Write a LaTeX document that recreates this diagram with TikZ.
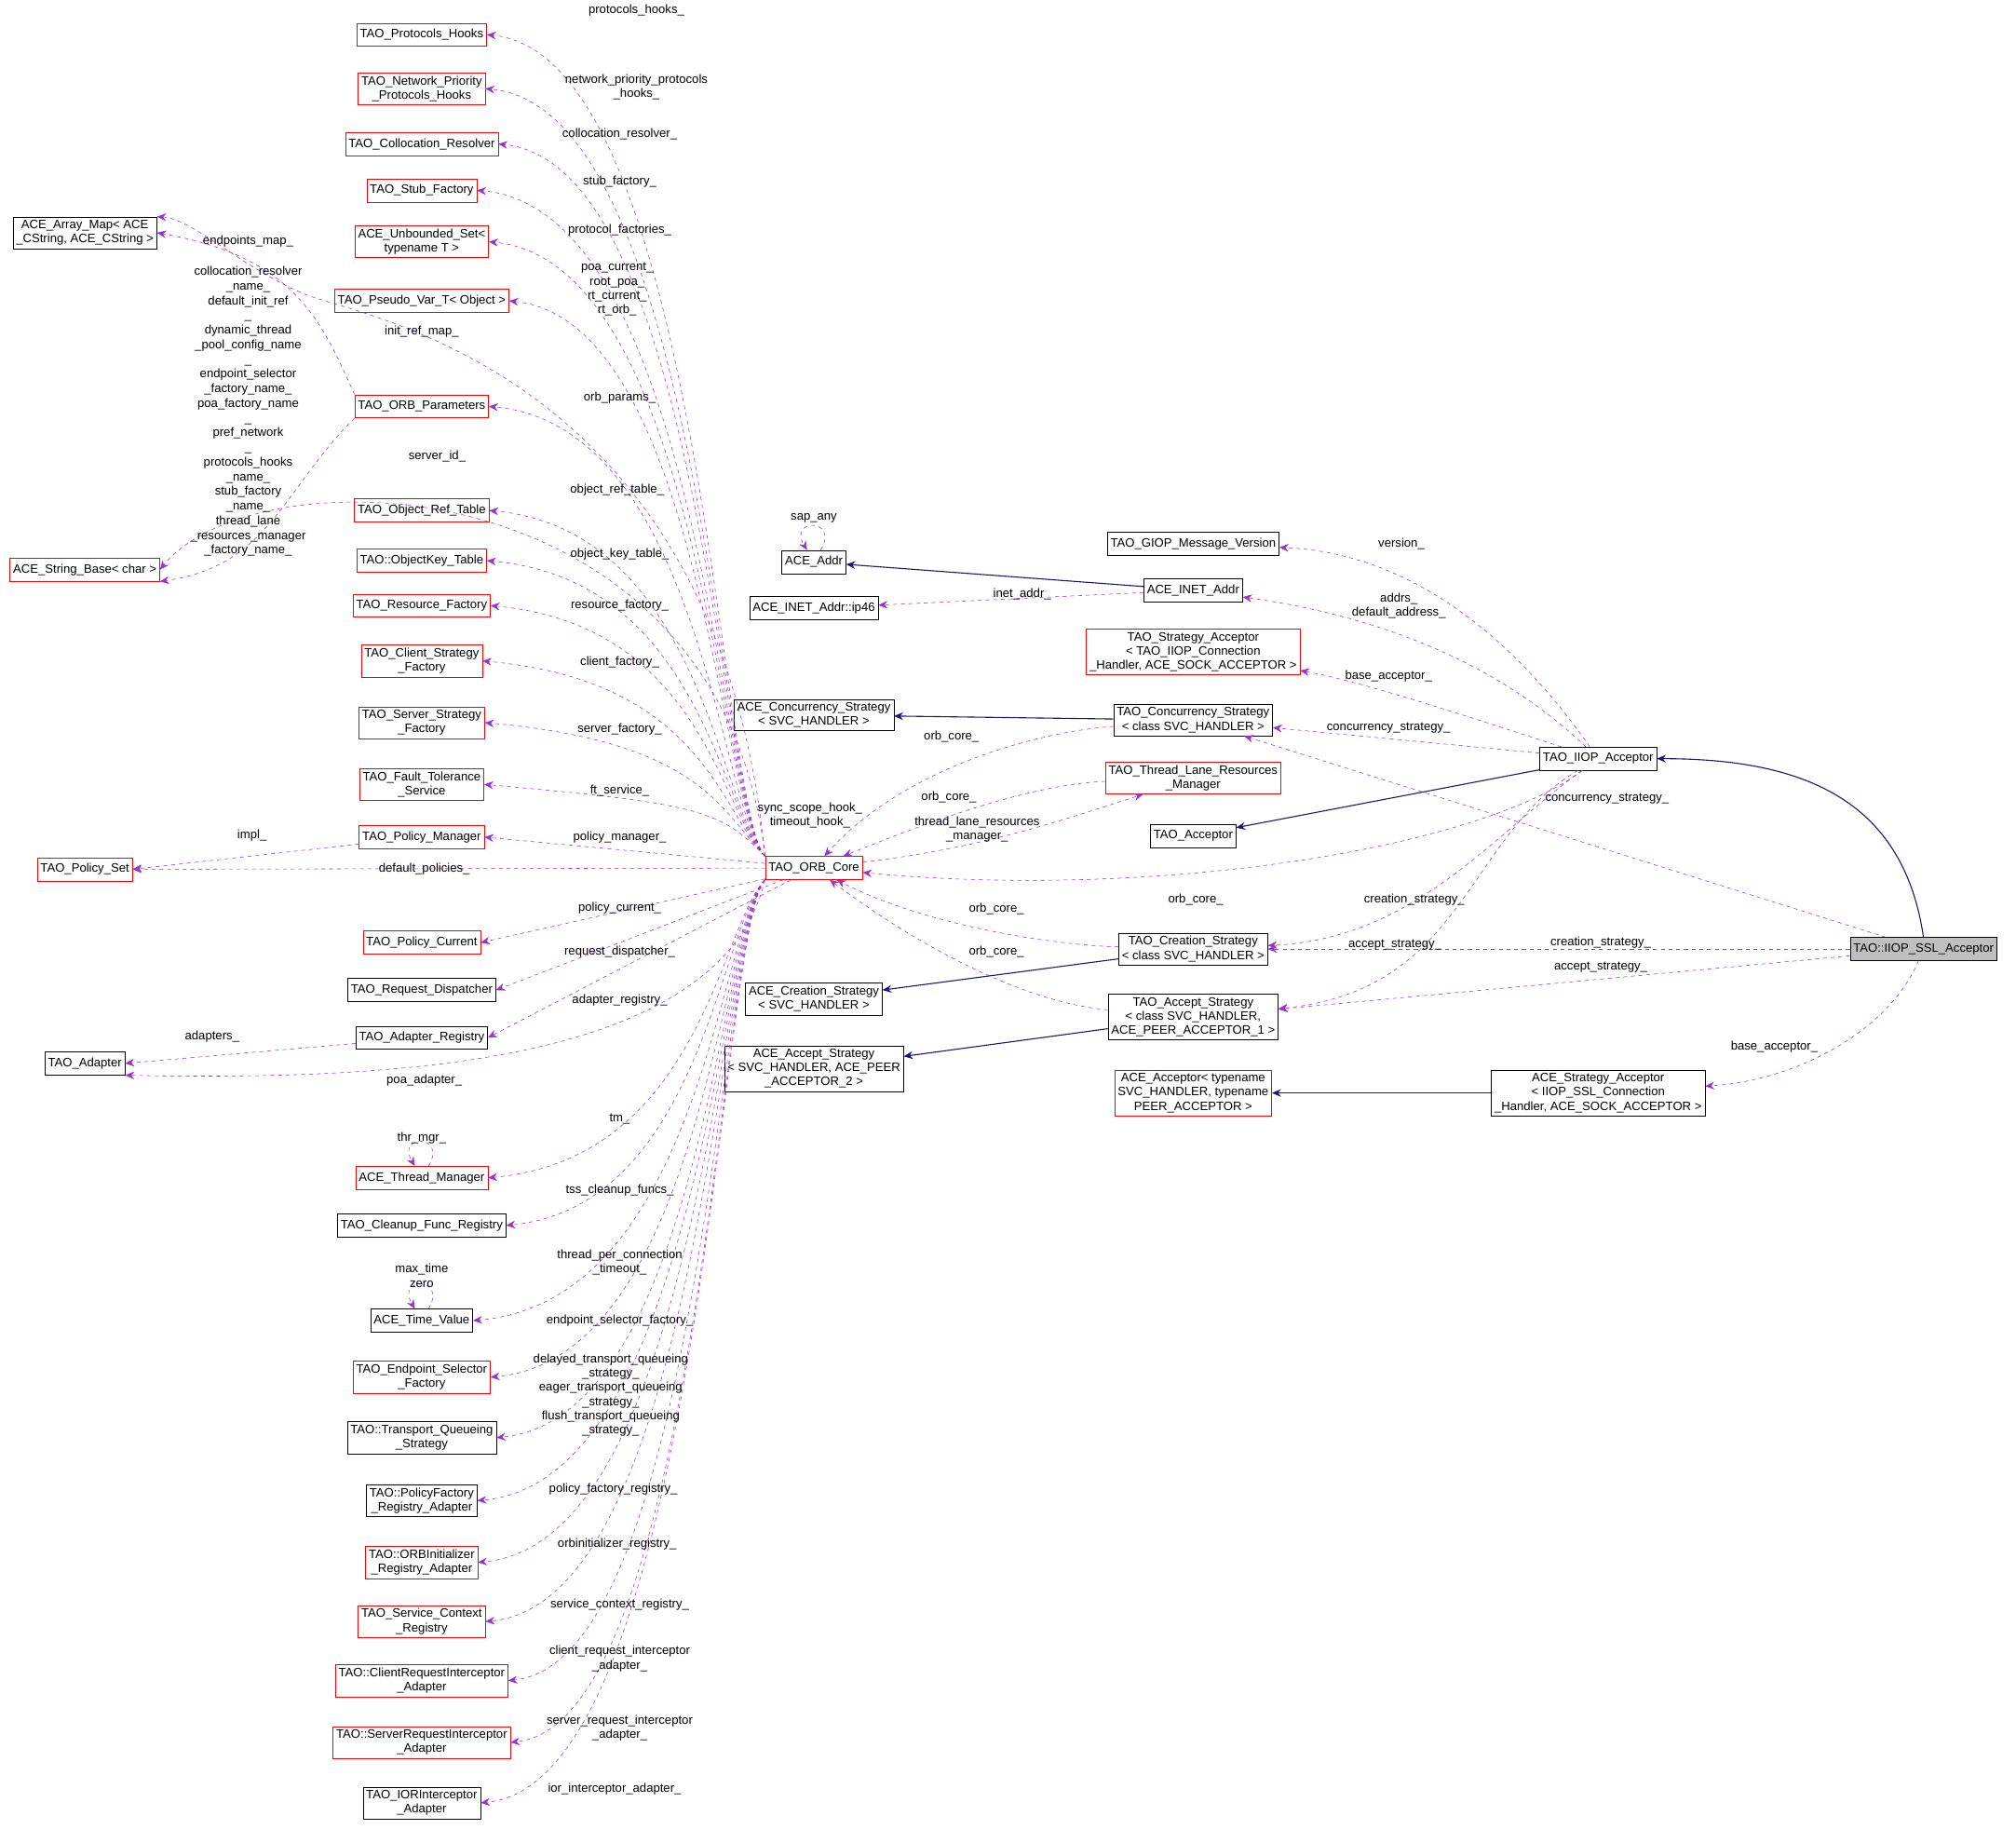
\documentclass[tikz,border=0pt]{standalone}
\usepackage{fontspec}
\setmainfont{Liberation Sans}
\usetikzlibrary{arrows.meta}
\begin{document}
\begin{tikzpicture}[x=1pt,y=-1pt,
 bx/.style={draw=black,fill=white,inner sep=2.5pt,align=center,font=\fontsize{9.5}{11}\selectfont,minimum height=18pt},
 rbx/.style={bx,draw=red},
 lb/.style={align=center,font=\fontsize{9.5}{11}\selectfont,inner sep=0pt},
 dep/.style={draw={rgb,255:red,153;green,50;blue,204},dashed,-{Stealth[length=7pt,width=6pt]}},
 inh/.style={draw={rgb,255:red,25;green,25;blue,112},thick,-{Stealth[length=7pt,width=6pt]}}]
\useasboundingbox[fill=white] (0,0) rectangle (1568,1433);
% left column
\node[rbx] (n1) at (328,27) {TAO\_Protocols\_Hooks};
\node[rbx] (n2) at (328,69) {TAO\_Network\_Priority\\\_Protocols\_Hooks};
\node[rbx] (n3) at (328,112) {TAO\_Collocation\_Resolver};
\node[rbx] (n4) at (328,148) {TAO\_Stub\_Factory};
\node[rbx] (n5) at (328,188) {ACE\_Unbounded\_Set<\\typename T >};
\node[rbx] (n6) at (328,234) {TAO\_Pseudo\_Var\_T< Object >};
\node[rbx] (n7) at (328,316) {TAO\_ORB\_Parameters};
\node[rbx] (n8) at (328,397) {TAO\_Object\_Ref\_Table};
\node[rbx] (n9) at (328,436) {TAO::ObjectKey\_Table};
\node[rbx] (n10) at (328,471) {TAO\_Resource\_Factory};
\node[rbx] (n11) at (328,514) {TAO\_Client\_Strategy\\\_Factory};
\node[rbx] (n12) at (328,562) {TAO\_Server\_Strategy\\\_Factory};
\node[rbx] (n13) at (328,610) {TAO\_Fault\_Tolerance\\\_Service};
\node[rbx] (n14) at (328,651) {TAO\_Policy\_Manager};
\node[rbx] (n15) at (328,733) {TAO\_Policy\_Current};
\node[bx] (n16) at (328,770) {TAO\_Request\_Dispatcher};
\node[bx] (n17) at (328,807) {TAO\_Adapter\_Registry};
\node[rbx] (n18) at (328,916) {ACE\_Thread\_Manager};
\node[bx] (n19) at (328,953) {TAO\_Cleanup\_Func\_Registry};
\node[bx] (n20) at (328,1027) {ACE\_Time\_Value};
\node[rbx] (n21) at (328,1071) {TAO\_Endpoint\_Selector\\\_Factory};
\node[bx] (n22) at (328,1118) {TAO::Transport\_Queueing\\\_Strategy};
\node[bx] (n23) at (328,1167) {TAO::PolicyFactory\\\_Registry\_Adapter};
\node[rbx] (n24) at (328,1215) {TAO::ORBInitializer\\\_Registry\_Adapter};
\node[rbx] (n25) at (328,1261) {TAO\_Service\_Context\\\_Registry};
\node[rbx] (n26) at (328,1307) {TAO::ClientRequestInterceptor\\\_Adapter};
\node[rbx] (n27) at (328,1355) {TAO::ServerRequestInterceptor\\\_Adapter};
\node[bx] (n28) at (328,1402) {TAO\_IORInterceptor\\\_Adapter};
% far left
\node[bx] (am) at (66,181) {ACE\_Array\_Map< ACE\\\_CString, ACE\_CString >};
\node[rbx] (sb) at (66,443) {ACE\_String\_Base< char >};
\node[rbx] (ps) at (66,676) {TAO\_Policy\_Set};
\node[bx] (ad) at (66,827) {TAO\_Adapter};
% core
\node[rbx] (orb) at (633,675) {TAO\_ORB\_Core};
% mid
\node[bx] (addr) at (633,437) {ACE\_Addr};
\node[bx] (ip46) at (633,473) {ACE\_INET\_Addr::ip46};
\node[bx] (acs) at (633,556) {ACE\_Concurrency\_Strategy\\< SVC\_HANDLER >};
\node[bx] (acr) at (633,777) {ACE\_Creation\_Strategy\\< SVC\_HANDLER >};
\node[bx] (aac) at (633,831) {ACE\_Accept\_Strategy\\< SVC\_HANDLER, ACE\_PEER\\\_ACCEPTOR\_2 >};
\node[bx] (giop) at (928,423) {TAO\_GIOP\_Message\_Version};
\node[bx] (inet) at (928,459) {ACE\_INET\_Addr};
\node[rbx] (tsa) at (928,507) {TAO\_Strategy\_Acceptor\\< TAO\_IIOP\_Connection\\\_Handler, ACE\_SOCK\_ACCEPTOR >};
\node[bx] (tcs) at (928,560) {TAO\_Concurrency\_Strategy\\< class SVC\_HANDLER >};
\node[rbx] (tlr) at (928,605) {TAO\_Thread\_Lane\_Resources\\\_Manager};
\node[bx] (tacc) at (928,650) {TAO\_Acceptor};
\node[bx] (tcr) at (928,738) {TAO\_Creation\_Strategy\\< class SVC\_HANDLER >};
\node[bx] (tas) at (928,791) {TAO\_Accept\_Strategy\\< class SVC\_HANDLER,\\ACE\_PEER\_ACCEPTOR\_1 >};
\node[rbx] (aacc) at (928,850) {ACE\_Acceptor< typename\\SVC\_HANDLER, typename\\PEER\_ACCEPTOR >};
\node[bx] (iiop) at (1243,590) {TAO\_IIOP\_Acceptor};
\node[bx] (asa) at (1243,850) {ACE\_Strategy\_Acceptor\\< IIOP\_SSL\_Connection\\\_Handler, ACE\_SOCK\_ACCEPTOR >};
\node[bx,fill=black!25] (ssl) at (1496,738) {TAO::IIOP\_SSL\_Acceptor};
% core -> left column
\foreach \n/\y in {n1/27,n2/69,n3/112,n4/148,n5/188,n6/234,n7/316,n8/397,n9/436,n10/471,n11/514,n12/562,n13/610}
  \draw[dep] (orb.north west) .. controls (560,630) and (545,\y+15) .. (\n.east);
\foreach \n/\y in {n18/916,n19/953,n20/1027,n21/1071,n22/1118,n23/1167,n24/1215,n25/1261,n26/1307,n27/1355,n28/1402}
  \draw[dep] (orb.south west) .. controls (560,720) and (545,\y-15) .. (\n.east);
\foreach \n in {n14,n15,n16,n17}
  \draw[dep] (orb) -- (\n.east);
\draw[dep] (orb.north west) .. controls (560,300) and (300,250) .. (240,230) .. controls (190,210) and (150,170) .. (am.north east);
\draw[dep] (n7.north west) .. controls (250,250) and (230,200) .. (am.east);
\draw[dep] (n7.south west) .. controls (220,380) and (210,440) .. (sb.south east);
\draw[dep] (orb.north west) .. controls (560,360) and (200,350) .. (sb.east);
\draw[dep] (orb) -- (ps.east);
\draw[dep] (n14) -- (ps.east);
\draw[dep] (n17) -- (ad.east);
\draw[dep] (orb.south west) .. controls (560,830) and (300,840) .. (ad.south east);
\draw[dep] (n18.60) .. controls +(15,-25) and +(-15,-25) .. (n18.120);
\draw[dep] (n20.60) .. controls +(15,-25) and +(-15,-25) .. (n20.120);
\draw[dep] (addr.60) .. controls +(15,-25) and +(-15,-25) .. (addr.120);
% right side deps
\draw[dep] (inet) -- (ip46);
\draw[dep] (iiop) .. controls (1180,500) and (1100,430) .. (giop);
\draw[dep] (iiop) .. controls (1170,520) and (1080,480) .. (inet);
\draw[dep] (iiop) .. controls (1150,560) and (1060,530) .. (tsa);
\draw[dep] (iiop) -- (tcs);
\draw[dep] (tcs) .. controls (800,570) and (700,600) .. (orb);
\draw[dep] (tlr) .. controls (800,610) and (720,640) .. (orb);
\draw[dep] (orb) .. controls (760,660) and (820,640) .. (tlr);
\draw[dep] (iiop) .. controls (1150,660) and (900,700) .. (orb);
\draw[dep] (tcr) .. controls (820,735) and (720,720) .. (orb);
\draw[dep] (tas) .. controls (800,780) and (720,740) .. (orb);
\draw[dep] (iiop) .. controls (1160,650) and (1100,730) .. (tcr);
\draw[dep] (iiop) .. controls (1140,650) and (1140,770) .. (tas);
\draw[dep] (ssl) -- (tcs);
\draw[dep] (ssl) -- (tcr);
\draw[dep] (ssl) -- (tas);
\draw[dep] (ssl) .. controls (1470,800) and (1400,840) .. (asa);
% inheritance
\draw[inh] (inet) -- (addr);
\draw[inh] (tcs) -- (acs);
\draw[inh] (iiop) -- (tacc);
\draw[inh] (tcr) -- (acr);
\draw[inh] (tas) -- (aac);
\draw[inh] (asa) -- (aacc);
\draw[inh] (ssl.north) .. controls (1480,620) and (1400,590) .. (iiop.east);
% labels
\node[lb] (l1) at (495,8) {protocols\_hooks\_};
\node[lb] (l2) at (495,68) {network\_priority\_protocols\\\_hooks\_};
\node[lb] (l3) at (482,104) {collocation\_resolver\_};
\node[lb] (l4) at (482,141) {stub\_factory\_};
\node[lb] (l5) at (482,179) {protocol\_factories\_};
\node[lb] (l6) at (480,225) {poa\_current\_\\root\_poa\_\\rt\_current\_\\rt\_orb\_};
\node[lb] (l7) at (328,258) {init\_ref\_map\_};
\node[lb] (l8) at (482,309) {orb\_params\_};
\node[lb] (l9) at (480,381) {object\_ref\_table\_};
\node[lb] (l10) at (482,431) {object\_key\_table\_};
\node[lb] (l11) at (482,471) {resource\_factory\_};
\node[lb] (l12) at (482,515) {client\_factory\_};
\node[lb] (l13) at (482,567) {server\_factory\_};
\node[lb] (l14) at (482,615) {ft\_service\_};
\node[lb] (l15) at (630,634) {sync\_scope\_hook\_\\timeout\_hook\_};
\node[lb] (l16) at (482,651) {policy\_manager\_};
\node[lb] (l17) at (330,676) {default\_policies\_};
\node[lb] (l18) at (196,650) {impl\_};
\node[lb] (l19) at (482,706) {policy\_current\_};
\node[lb] (l20) at (482,740) {request\_dispatcher\_};
\node[lb] (l21) at (482,778) {adapter\_registry\_};
\node[lb] (l22) at (165,806) {adapters\_};
\node[lb] (l23) at (330,840) {poa\_adapter\_};
\node[lb] (l24) at (482,870) {tm\_};
\node[lb] (l25) at (328,885) {thr\_mgr\_};
\node[lb] (l26) at (482,926) {tss\_cleanup\_funcs\_};
\node[lb] (l27) at (328,992) {max\_time\\zero};
\node[lb] (l28) at (482,982) {thread\_per\_connection\\\_timeout\_};
\node[lb] (l29) at (482,1027) {endpoint\_selector\_factory\_};
\node[lb] (l30) at (475,1085) {delayed\_transport\_queueing\\\_strategy\_\\eager\_transport\_queueing\\\_strategy\_\\flush\_transport\_queueing\\\_strategy\_};
\node[lb] (l31) at (477,1158) {policy\_factory\_registry\_};
\node[lb] (l32) at (480,1201) {orbinitializer\_registry\_};
\node[lb] (l33) at (482,1248) {service\_context\_registry\_};
\node[lb] (l34) at (482,1290) {client\_request\_interceptor\\\_adapter\_};
\node[lb] (l35) at (482,1344) {server\_request\_interceptor\\\_adapter\_};
\node[lb] (l36) at (478,1391) {ior\_interceptor\_adapter\_};
\node[lb] (l37) at (193,188) {endpoints\_map\_};
\node[lb,font=\fontsize{9.5}{11.4}\selectfont] (l38) at (193,320) {collocation\_resolver\\\_name\_\\default\_init\_ref\\\_\\dynamic\_thread\\\_pool\_config\_name\\\_\\endpoint\_selector\\\_factory\_name\_\\poa\_factory\_name\\\_\\pref\_network\\\_\\protocols\_hooks\\\_name\_\\stub\_factory\\\_name\_\\thread\_lane\\\_resources\_manager\\\_factory\_name\_};
\node[lb] (l39) at (340,355) {server\_id\_};
\node[lb] (l40) at (633,403) {sap\_any};
\node[lb] (l41) at (795,462) {inet\_addr\_};
\node[lb] (l42) at (1090,423) {version\_};
\node[lb] (l43) at (1088,471) {addrs\_\\default\_address\_};
\node[lb] (l44) at (1080,526) {base\_acceptor\_};
\node[lb] (l45) at (1080,566) {concurrency\_strategy\_};
\node[lb] (l46) at (740,573) {orb\_core\_};
\node[lb] (l47) at (738,620) {orb\_core\_};
\node[lb] (l48) at (760,645) {thread\_lane\_resources\\\_manager\_};
\node[lb] (l49) at (930,700) {orb\_core\_};
\node[lb] (l50) at (775,707) {orb\_core\_};
\node[lb] (l51) at (775,740) {orb\_core\_};
\node[lb] (l52) at (1100,700) {creation\_strategy\_};
\node[lb] (l53) at (1085,735) {accept\_strategy\_};
\node[lb] (l54) at (1250,621) {concurrency\_strategy\_};
\node[lb] (l55) at (1245,733) {creation\_strategy\_};
\node[lb] (l56) at (1245,752) {accept\_strategy\_};
\node[lb] (l57) at (1380,814) {base\_acceptor\_};
\end{tikzpicture}
\end{document}
